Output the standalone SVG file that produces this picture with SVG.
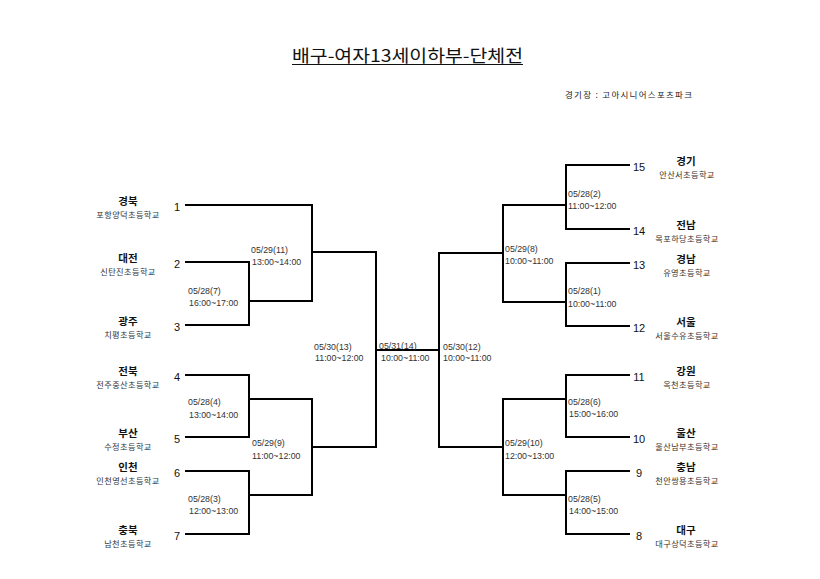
<svg xmlns="http://www.w3.org/2000/svg" width="820" height="579" viewBox="0 0 820 579">
<style>
.bg{fill:#fff}
.title{font-family:"Noto Sans CJK KR","Noto Sans",sans-serif;font-size:17px;fill:#111}
.venue{font-family:"Noto Sans CJK KR",sans-serif;font-size:8.5px;fill:#222}
.reg{font-family:"Noto Sans CJK KR",sans-serif;font-size:10.5px;font-weight:bold;fill:#111;text-anchor:middle}
.sch{font-family:"Noto Sans CJK KR",sans-serif;font-size:8.2px;fill:#333;text-anchor:middle;letter-spacing:0.4px}
.num{font-family:"Liberation Sans",Arial,sans-serif;font-size:11px;fill:#111;text-anchor:middle}
.lbl{font-family:"Liberation Sans",Arial,sans-serif;font-size:8.8px;fill:#333}
.ln{fill:none;stroke:#000;stroke-width:2;stroke-linecap:square;stroke-linejoin:miter}
</style>
<rect class="bg" x="0" y="0" width="820" height="579"/>
<g id="title">
<text class="title" x="292" y="62" textLength="231" lengthAdjust="spacingAndGlyphs">배구-여자13세이하부-단체전</text>
<line x1="292" y1="64.5" x2="523" y2="64.5" stroke="#111" stroke-width="1"/>
</g>
<g id="venue"><text class="venue" x="565" y="98" textLength="127" lengthAdjust="spacing">경기장 : 고아시니어스포츠파크</text></g>

<g id="connectors">
<path class="ln" d="M186,205 H312 V301 M186,262 H249 V325 H186 M249,301 H312 M312,252 H376"/>
<path class="ln" d="M186,375 H249 V437 H186 M249,399 H312 M186,471 H249 V534 H186 M249,495 H312 M312,399 V495 M312,447 H376 M376,252 V447 M376,350 H439"/>
<path class="ln" d="M629,165 H566 V229 H629 M566,205 H503 M629,263 H566 V326 H629 M566,302 H503 M503,205 V302 M503,253 H439"/>
<path class="ln" d="M629,375 H566 V437 H629 M566,399 H503 M629,471 H566 V534 H629 M566,495 H503 M503,399 V495 M503,447 H439 M439,253 V447"/>
</g>

<g id="team-1"><text class="reg" x="128" y="205">경북</text><text class="sch" x="128" y="218">포항양덕초등학교</text><text class="num" x="177" y="210.5">1</text></g>
<g id="team-2"><text class="reg" x="128" y="262">대전</text><text class="sch" x="128" y="275">신탄진초등학교</text><text class="num" x="177" y="267.5">2</text></g>
<g id="team-3"><text class="reg" x="128" y="325">광주</text><text class="sch" x="128" y="338">치평초등학교</text><text class="num" x="177" y="330.5">3</text></g>
<g id="team-4"><text class="reg" x="128" y="375">전북</text><text class="sch" x="128" y="388">전주중산초등학교</text><text class="num" x="177" y="380.5">4</text></g>
<g id="team-5"><text class="reg" x="128" y="437">부산</text><text class="sch" x="128" y="450">수정초등학교</text><text class="num" x="177" y="442.5">5</text></g>
<g id="team-6"><text class="reg" x="128" y="471">인천</text><text class="sch" x="128" y="484">인천영선초등학교</text><text class="num" x="177" y="476.5">6</text></g>
<g id="team-7"><text class="reg" x="128" y="534">충북</text><text class="sch" x="128" y="547">남천초등학교</text><text class="num" x="177" y="539.5">7</text></g>

<g id="team-15"><text class="reg" x="686" y="165">경기</text><text class="sch" x="687" y="178">안산서초등학교</text><text class="num" x="639" y="170.5">15</text></g>
<g id="team-14"><text class="reg" x="686" y="229">전남</text><text class="sch" x="687" y="242">목포하당초등학교</text><text class="num" x="639" y="234.5">14</text></g>
<g id="team-13"><text class="reg" x="686" y="263">경남</text><text class="sch" x="687" y="276">유영초등학교</text><text class="num" x="639" y="268.5">13</text></g>
<g id="team-12"><text class="reg" x="686" y="326">서울</text><text class="sch" x="687" y="339">서울수유초등학교</text><text class="num" x="639" y="331.5">12</text></g>
<g id="team-11"><text class="reg" x="686" y="375">강원</text><text class="sch" x="687" y="388">옥천초등학교</text><text class="num" x="639" y="380.5">11</text></g>
<g id="team-10"><text class="reg" x="686" y="437">울산</text><text class="sch" x="687" y="450">울산남부초등학교</text><text class="num" x="639" y="442.5">10</text></g>
<g id="team-9"><text class="reg" x="686" y="471">충남</text><text class="sch" x="687" y="484">천안쌍용초등학교</text><text class="num" x="639" y="476.5">9</text></g>
<g id="team-8"><text class="reg" x="686" y="534">대구</text><text class="sch" x="687" y="547">대구상덕초등학교</text><text class="num" x="639" y="539.5">8</text></g>

<g id="match-labels">
<text class="lbl" x="188" y="294">05/28(7)</text><text class="lbl" x="189" y="306">16:00~17:00</text>
<text class="lbl" x="251" y="253">05/29(11)</text><text class="lbl" x="252" y="265">13:00~14:00</text>
<text class="lbl" x="188" y="405">05/28(4)</text><text class="lbl" x="189" y="418">13:00~14:00</text>
<text class="lbl" x="252" y="446">05/29(9)</text><text class="lbl" x="252" y="459">11:00~12:00</text>
<text class="lbl" x="188" y="502">05/28(3)</text><text class="lbl" x="189" y="514">12:00~13:00</text>
<text class="lbl" x="314" y="350">05/30(13)</text><text class="lbl" x="315" y="361">11:00~12:00</text>
<text class="lbl" x="379" y="349">05/31(14)</text><text class="lbl" x="381" y="361">10:00~11:00</text>
<text class="lbl" x="443" y="350">05/30(12)</text><text class="lbl" x="443" y="361">10:00~11:00</text>
<text class="lbl" x="568" y="197">05/28(2)</text><text class="lbl" x="568" y="209">11:00~12:00</text>
<text class="lbl" x="505" y="252">05/29(8)</text><text class="lbl" x="505" y="264">10:00~11:00</text>
<text class="lbl" x="568" y="294">05/28(1)</text><text class="lbl" x="568" y="307">10:00~11:00</text>
<text class="lbl" x="568" y="405">05/28(6)</text><text class="lbl" x="569" y="417">15:00~16:00</text>
<text class="lbl" x="505" y="446">05/29(10)</text><text class="lbl" x="505" y="459">12:00~13:00</text>
<text class="lbl" x="568" y="502">05/28(5)</text><text class="lbl" x="569" y="514">14:00~15:00</text>
</g>
</svg>
